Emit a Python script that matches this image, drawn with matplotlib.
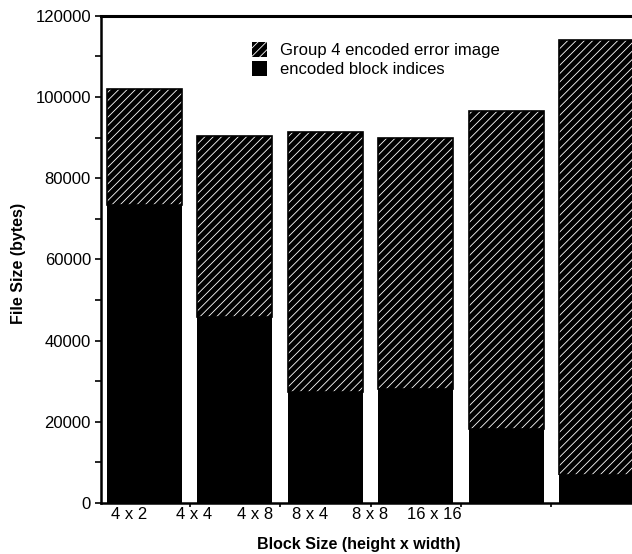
import matplotlib
matplotlib.use("Agg")
import matplotlib.pyplot as plt
import numpy as np

plt.rcParams['font.family'] = ['Liberation Sans', 'DejaVu Sans']
plt.rcParams['hatch.color'] = 'white'
plt.rcParams['hatch.linewidth'] = 0.6

# Data
block_indices = [73300, 45900, 27400, 28000, 18100, 7000]
totals = [102000, 90400, 91300, 90000, 96500, 114000]
error_image = [t - b for t, b in zip(totals, block_indices)]
tick_labels = ["4 x 2", "4 x 4", "4 x 8", "8 x 4", "8 x 8", "16 x 16"]
label_pos = [-0.17, 0.55, 1.22, 1.83, 2.49, 3.21]
series_names = ["Group 4 encoded error image", "encoded block indices"]

fig = plt.figure(figsize=(6.32, 5.54), dpi=100)
AX_L, AX_B, AX_W, AX_H = 0.1593, 0.0921, 0.8707, 0.8796
ax = fig.add_axes([AX_L, AX_B, AX_W, AX_H])
axw_px = AX_W * 632
axh_px = AX_H * 554

x = np.arange(len(totals))
w = 0.83
b1 = ax.bar(x, block_indices, width=w, color='black', edgecolor='black', linewidth=0,
            label=series_names[1])
b2 = ax.bar(x, error_image, width=w, bottom=block_indices, facecolor='black',
            edgecolor='white', hatch='////', linewidth=0, label=series_names[0])
ax.bar(x, error_image, width=w, bottom=block_indices, fill=False,
       edgecolor='black', linewidth=1.2)

ax.set_xlim(-0.484, 5.6)
ax.set_ylim(0, 120000)

ax.set_yticks(np.arange(0, 120001, 20000))
ax.set_yticks(np.arange(10000, 120000, 20000), minor=True)
ax.tick_params(axis='y', which='both', direction='out', length=4, width=1.2,
               labelsize=12, pad=3)

ax.set_xticks(np.arange(0.5, 5.0, 1.0))
ax.set_xticklabels([])
ax.set_xticks(label_pos, minor=True)
ax.set_xticklabels(tick_labels, minor=True)
ax.tick_params(axis='x', which='major', direction='out', length=3, width=1.2)
ax.tick_params(axis='x', which='minor', length=0, labelsize=12, pad=3)

for side in ['left', 'bottom']:
    ax.spines[side].set_linewidth(1.8)
ax.spines['top'].set_linewidth(2.2)
ax.spines['right'].set_visible(False)

ax.set_xlabel("Block Size (height x width)", fontsize=11.5, fontweight='bold')
ax.set_ylabel("File Size (bytes)", fontsize=11.5, fontweight='bold')
ax.xaxis.set_label_coords((359 - 100.7) / axw_px, -(537 - 503) / axh_px)
ax.yaxis.set_label_coords(-(100.7 - 26) / axw_px, (503 - 263) / axh_px)

leg = ax.legend(handles=[b2, b1], labels=series_names, loc='upper left',
                bbox_to_anchor=((245 - 100.7) / axw_px, 1 - (35 - 15.7) / axh_px),
                frameon=False, fontsize=12, handlelength=0.9, handleheight=1.0,
                handletextpad=0.8, labelspacing=0.2, borderaxespad=0)

fig.savefig("out.png", dpi=100)
